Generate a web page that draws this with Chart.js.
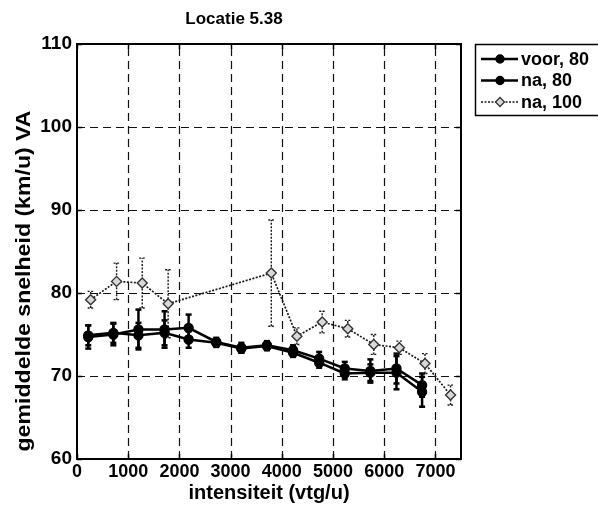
<!DOCTYPE html>
<html>
<head>
<meta charset="utf-8">
<script src="https://cdn.jsdelivr.net/npm/chart.js@4/dist/chart.umd.min.js"></script>
<style>
html,body{margin:0;padding:0;background:#fff;}
#wrap{width:598px;height:505px;position:relative;}
</style>
</head>
<body>
<div id="wrap"><canvas id="c" width="598" height="505"></canvas></div>
<script>
// ---- data ----
const chartTitle = "Locatie 5.38";
const xTitle = "intensiteit (vtg/u)";
const yTitle = "gemiddelde snelheid (km/u) VA";
const xTicks = [0, 1000, 2000, 3000, 4000, 5000, 6000, 7000];
const yTicks = [60, 70, 80, 90, 100, 110];

const seriesLabels = ["voor, 80", "na, 80", "na, 100"];

const xVoor80 = [220, 710, 1200, 1710, 2180, 2720, 3210, 3710, 4220, 4730, 5230, 5730, 6240, 6740];
const yVoor80 = [74.7, 75.0, 75.6, 75.6, 75.8, 74.1, 73.4, 73.7, 73.1, 72.1, 70.9, 70.6, 70.9, 68.9];
const eVoor80 = [1.4, 1.3, 2.4, 2.2, 1.6, 0.5, 0.6, 0.5, 0.6, 0.8, 0.8, 1.4, 1.8, 1.4];

const xNa80 = [220, 710, 1200, 1710, 2180, 2720, 3210, 3710, 4220, 4730, 5230, 5730, 6240, 6740];
const yNa80 = [74.9, 75.2, 74.9, 75.2, 74.4, 74.0, 73.3, 73.6, 72.8, 71.6, 70.3, 70.4, 70.4, 68.1];
const eNa80 = [1.2, 1.2, 1.5, 1.5, 1.0, 0.5, 0.5, 0.5, 0.5, 0.6, 0.7, 1.0, 2.0, 1.8];

const xNa100 = [267, 773, 1274, 1780, 3795, 4295, 4789, 5289, 5796, 6296, 6797, 7296];
const yNa100 = [79.2, 81.4, 81.2, 78.7, 82.4, 74.8, 76.5, 75.7, 73.8, 73.4, 71.5, 67.7];
const eNa100 = [1.0, 2.2, 3.0, 4.1, 6.4, 1.0, 1.3, 1.0, 1.2, 0.8, 1.2, 1.2];

// ---- build ----
function pts(xs, ys) { return xs.map((x, i) => ({ x: x, y: ys[i] })); }

const FONT = "'Liberation Sans', Arial, Helvetica, sans-serif";

const styles = [
  { line: '#000', lw: 2.5, dash: [], pstyle: 'circle', r: 4.5, fill: '#000', pborder: '#000', ew: 2.5, edash: [] },
  { line: '#000', lw: 2.5, dash: [], pstyle: 'circle', r: 4.5, fill: '#000', pborder: '#000', ew: 2.5, edash: [] },
  { line: '#1a1a1a', lw: 1.7, dash: [2, 1.5], pstyle: 'rectRot', r: 5, fill: '#d8d8d8', pborder: '#333', ew: 1.4, edash: [2, 1.5] }
];
const errs = [eVoor80, eNa80, eNa100];

const datasets = [
  { label: seriesLabels[0], data: pts(xVoor80, yVoor80) },
  { label: seriesLabels[1], data: pts(xNa80, yNa80) },
  { label: seriesLabels[2], data: pts(xNa100, yNa100) }
].map((d, i) => Object.assign(d, {
  showLine: true,
  borderColor: styles[i].line,
  borderWidth: styles[i].lw,
  borderDash: styles[i].dash,
  pointStyle: styles[i].pstyle,
  pointRadius: styles[i].r,
  pointBackgroundColor: styles[i].fill,
  pointBorderColor: styles[i].pborder,
  pointBorderWidth: 1.4,
  tension: 0,
  errors: errs[i]
}));

const bgPlugin = {
  id: 'bg',
  beforeDraw(chart) {
    const ctx = chart.ctx;
    ctx.save(); ctx.fillStyle = '#fff'; ctx.fillRect(0, 0, chart.width, chart.height); ctx.restore();
  }
};

function seg(ctx, x1, y1, x2, y2) { ctx.beginPath(); ctx.moveTo(x1, y1); ctx.lineTo(x2, y2); ctx.stroke(); }

const gridPlugin = {
  id: 'gridEb',
  beforeDatasetsDraw(chart) {
    const { ctx, chartArea: a, scales: { x, y } } = chart;
    ctx.save();
    ctx.strokeStyle = '#111'; ctx.lineWidth = 1.2; ctx.setLineDash([8, 5]);
    xTicks.forEach(v => {
      const px = Math.round(x.getPixelForValue(v)) + 0.5;
      if (px <= a.left + 2 || px >= a.right - 2) return;
      seg(ctx, px, a.bottom, px, a.top);
    });
    yTicks.forEach(v => {
      const py = Math.round(y.getPixelForValue(v)) + 0.5;
      if (py <= a.top + 2 || py >= a.bottom - 2) return;
      seg(ctx, a.left, py, a.right, py);
    });
    ctx.restore();
    // error bars
    chart.data.datasets.forEach((ds, i) => {
      const st = styles[i];
      ctx.save();
      ctx.strokeStyle = st.line; ctx.lineWidth = st.ew; ctx.setLineDash(st.edash);
      ds.data.forEach((p, j) => {
        const e = ds.errors[j];
        const px = x.getPixelForValue(p.x);
        const y1 = y.getPixelForValue(p.y - e), y2 = y.getPixelForValue(p.y + e);
        seg(ctx, px, y1, px, y2);
        seg(ctx, px - 3, y1, px + 3, y1);
        seg(ctx, px - 3, y2, px + 3, y2);
      });
      ctx.restore();
    });
  },
  afterDatasetsDraw(chart) {
    const { ctx, chartArea: a, scales: { x, y } } = chart;
    ctx.save();
    ctx.strokeStyle = '#000'; ctx.lineWidth = 1.5; ctx.setLineDash([]);
    xTicks.forEach(v => {
      const px = Math.round(x.getPixelForValue(v)) + 0.5;
      seg(ctx, px, a.bottom, px, a.bottom - 5);
      seg(ctx, px, a.top, px, a.top + 5);
    });
    yTicks.forEach(v => {
      const py = Math.round(y.getPixelForValue(v)) + 0.5;
      seg(ctx, a.left, py, a.left + 5, py);
      seg(ctx, a.right, py, a.right - 5, py);
    });
    ctx.lineWidth = 2;
    ctx.strokeRect(a.left, a.top, a.right - a.left, a.bottom - a.top);
    ctx.restore();
  },
  afterDraw(chart) {
    const ctx = chart.ctx;
    ctx.save();
    // title
    ctx.fillStyle = '#000';
    ctx.font = "bold 17px " + FONT;
    ctx.textAlign = 'center'; ctx.textBaseline = 'middle';
    ctx.fillText(chartTitle, 234, 19);
    // y axis title (stretched slightly along its length like the scan)
    ctx.save();
    ctx.translate(24, 281);
    ctx.rotate(-Math.PI / 2);
    ctx.scale(1.1, 1);
    ctx.font = "bold 21px " + FONT;
    ctx.textAlign = 'center'; ctx.textBaseline = 'middle';
    ctx.fillText(yTitle, 0, 0);
    ctx.restore();
    // legend box
    const lx = 475, ly = 44, lw = 140, lh = 71;
    ctx.fillStyle = '#fff';
    ctx.fillRect(lx, ly, lw, lh);
    ctx.strokeStyle = '#000'; ctx.lineWidth = 1.5;
    ctx.strokeRect(lx + 0.5, ly + 0.5, lw, lh);
    chart.data.datasets.forEach((ds, i) => {
      const st = styles[i];
      const ry = 59 + i * 21.5;
      ctx.strokeStyle = st.line; ctx.lineWidth = st.lw; ctx.setLineDash(st.dash);
      seg(ctx, 481, ry, 518, ry);
      ctx.setLineDash([]);
      ctx.fillStyle = st.fill; ctx.strokeStyle = st.pborder;
      ctx.beginPath();
      if (st.pstyle === 'circle') { ctx.arc(500, ry, st.r - 0.5, 0, Math.PI * 2); }
      else { const r = st.r - 0.5; ctx.moveTo(500, ry - r); ctx.lineTo(500 + r, ry); ctx.lineTo(500, ry + r); ctx.lineTo(500 - r, ry); ctx.closePath(); }
      ctx.fill(); ctx.lineWidth = 1.3; ctx.stroke();
      ctx.fillStyle = '#000';
      ctx.font = "bold 18px " + FONT;
      ctx.textAlign = 'left'; ctx.textBaseline = 'middle';
      ctx.fillText(ds.label, 521, ry + 1);
    });
    ctx.restore();
  }
};

new Chart(document.getElementById('c'), {
  type: 'scatter',
  data: { datasets: datasets },
  options: {
    responsive: false,
    animation: false,
    devicePixelRatio: 1,
    layout: { padding: { left: 0, top: 44, right: 137, bottom: 0 } },
    plugins: { legend: { display: false }, title: { display: false }, tooltip: { enabled: false } },
    scales: {
      x: {
        type: 'linear', min: 0, max: 7500,
        afterFit(s) { s.height = 46; },
        afterBuildTicks(s) { s.ticks = xTicks.map(v => ({ value: v })); },
        grid: { display: false, drawTicks: false },
        border: { display: false },
        ticks: { color: '#000', font: { family: FONT, size: 18, weight: 'bold' }, padding: 2, maxRotation: 0, autoSkip: false, callback: v => String(v) },
        title: { display: true, text: xTitle, color: '#000', font: { family: FONT, size: 20, weight: 'bold' }, padding: { top: 0, bottom: 0 } }
      },
      y: {
        type: 'linear', min: 60, max: 110,
        afterFit(s) { s.width = 77; },
        afterBuildTicks(s) { s.ticks = yTicks.map(v => ({ value: v })); },
        grid: { display: false, drawTicks: false },
        border: { display: false },
        ticks: { color: '#000', font: { family: FONT, size: 19, weight: 'bold' }, padding: 5, autoSkip: false, callback: v => String(v) },
        title: { display: false }
      }
    }
  },
  plugins: [bgPlugin, gridPlugin]
});
</script>
</body>
</html>
